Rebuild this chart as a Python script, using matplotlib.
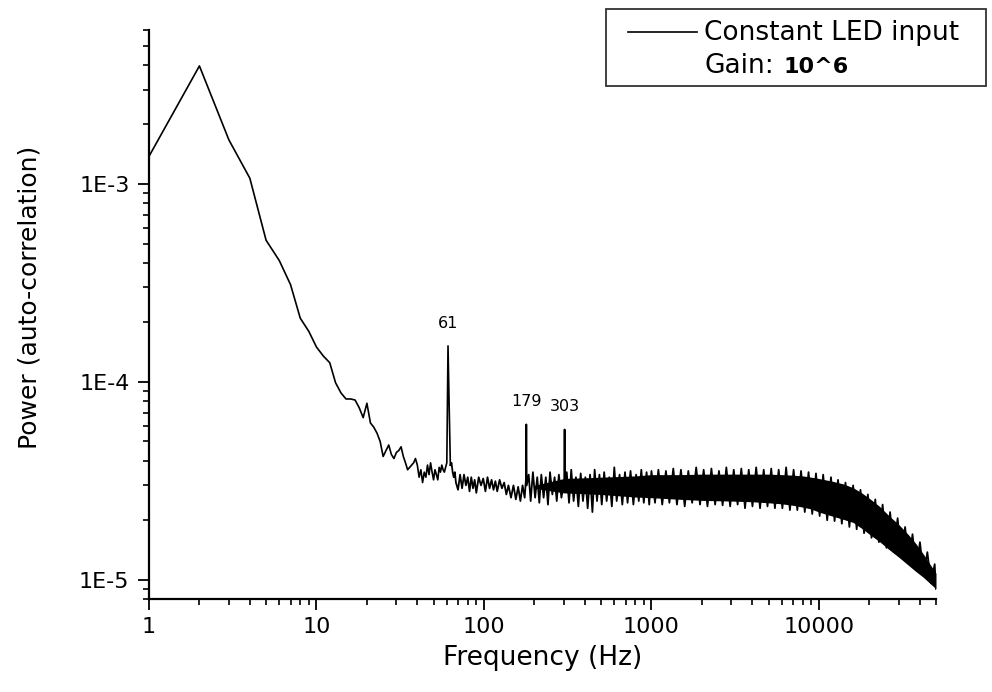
import matplotlib
matplotlib.use("Agg")
import matplotlib.pyplot as plt
from matplotlib.lines import Line2D
from matplotlib.patches import Rectangle
from matplotlib.ticker import FixedLocator, LogLocator, NullFormatter

# low-frequency part of the spectrum (1 Hz bins)
low_freq = [1, 2, 3, 4, 5, 6, 7, 8, 9, 10, 11, 12, 13, 14, 15, 16, 17, 18, 19, 20,
            21, 22, 23, 24, 25, 26, 27, 28, 29, 30, 31, 32, 33, 34, 35, 36, 37, 38,
            39, 40, 41, 42, 43, 44, 45, 46, 47, 48, 49, 50, 51, 52, 53, 54, 55, 56,
            57, 58, 59, 60, 61, 62]
low_power = [1.38e-3, 3.95e-3, 1.67e-3, 1.07e-3, 5.2e-4, 4.1e-4, 3.1e-4, 2.1e-4,
             1.8e-4, 1.5e-4, 1.35e-4, 1.25e-4, 9.9e-5, 8.8e-5, 8.2e-5, 8.2e-5,
             8.1e-5, 7.4e-5, 6.6e-5, 7.8e-5, 6.2e-5, 5.9e-5, 5.5e-5, 5.0e-5,
             4.2e-5, 4.5e-5, 4.8e-5, 4.3e-5, 4.1e-5, 4.4e-5, 4.5e-5, 4.7e-5,
             4.2e-5, 3.9e-5, 3.6e-5, 3.7e-5, 3.8e-5, 3.9e-5, 4.1e-5, 3.8e-5,
             3.3e-5, 3.6e-5, 3.1e-5, 3.5e-5, 3.3e-5, 3.8e-5, 3.4e-5, 3.9e-5,
             3.5e-5, 3.2e-5, 3.6e-5, 3.4e-5, 3.2e-5, 3.7e-5, 3.5e-5, 3.8e-5,
             3.6e-5, 3.5e-5, 3.7e-5, 3.9e-5, 1.52e-4, 7.4e-5]

# noisy part of the trace, extremes
noise_freq = [63, 64, 65, 66, 67, 68, 70, 72, 74, 76, 78, 80, 82, 84, 86, 88, 90,
              93, 96, 99, 102, 105, 108, 111, 114, 117, 120, 124, 128, 132, 136,
              140, 145, 150, 155, 160, 165, 170, 175, 178, 179, 180, 185, 190, 196,
              202, 208, 214, 220, 227, 234, 241, 248, 256, 264, 272, 280, 290, 302,
              303, 304, 312, 322, 332, 343, 354, 366, 378, 390, 403, 416, 430, 444,
              458, 473, 489, 505, 522, 540, 560, 580, 600, 620, 645, 670, 695, 720,
              750, 780, 810, 840, 870, 900, 935, 970, 1000, 1050, 1100, 1160, 1220,
              1280, 1350, 1420, 1500, 1580, 1660, 1750, 1850, 1950, 2050, 2160,
              2280, 2400, 2530, 2660, 2800, 2950, 3100, 3270, 3440, 3620, 3810,
              4010, 4220, 4450, 4680, 4930, 5190, 5460, 5750, 6050, 6370, 6710,
              7060, 7430, 7820, 8230, 8670, 9120, 9600, 10100, 10600, 11200, 11800,
              12400, 13000, 13700, 14400, 15200, 16000, 16800, 17700, 18600, 19600,
              20600, 21700, 22800, 24000, 25300, 26600, 28000, 29500, 31000, 32700,
              34400, 36200, 38100, 40100, 42200, 44400, 46700, 49100, 50000]
noise_power = [3.8e-5, 3.9e-5, 3.5e-5, 3.3e-5, 3.5e-5, 3.1e-5, 2.85e-5, 3.4e-5,
               2.9e-5, 3.4e-5, 3.0e-5, 3.3e-5, 2.8e-5, 3.3e-5, 2.9e-5, 3.2e-5,
               2.75e-5, 3.3e-5, 3.0e-5, 3.25e-5, 2.8e-5, 3.3e-5, 2.9e-5, 3.2e-5,
               2.85e-5, 3.15e-5, 2.8e-5, 3.2e-5, 2.9e-5, 3.1e-5, 2.7e-5, 3.0e-5,
               2.6e-5, 3.0e-5, 2.55e-5, 2.95e-5, 2.5e-5, 3.0e-5, 2.6e-5, 3.2e-5,
               6.1e-5, 3.0e-5, 3.4e-5, 2.5e-5, 3.5e-5, 2.6e-5, 3.3e-5, 2.45e-5,
               3.4e-5, 2.6e-5, 3.3e-5, 2.4e-5, 3.5e-5, 2.7e-5, 3.3e-5, 2.5e-5,
               3.4e-5, 2.6e-5, 3.2e-5, 5.75e-5, 2.9e-5, 3.5e-5, 2.45e-5, 3.6e-5,
               2.5e-5, 3.3e-5, 2.35e-5, 3.45e-5, 2.5e-5, 3.3e-5, 2.3e-5, 3.4e-5,
               2.2e-5, 3.6e-5, 2.5e-5, 3.4e-5, 2.4e-5, 3.5e-5, 2.5e-5, 3.3e-5,
               2.35e-5, 3.7e-5, 2.5e-5, 3.4e-5, 2.4e-5, 3.5e-5, 2.45e-5, 3.55e-5,
               2.4e-5, 3.4e-5, 2.5e-5, 3.6e-5, 2.45e-5, 3.5e-5, 2.4e-5, 3.55e-5,
               2.45e-5, 3.6e-5, 2.4e-5, 3.55e-5, 2.45e-5, 3.65e-5, 2.4e-5, 3.6e-5,
               2.35e-5, 3.55e-5, 2.45e-5, 3.7e-5, 2.4e-5, 3.6e-5, 2.35e-5, 3.65e-5,
               2.4e-5, 3.55e-5, 2.38e-5, 3.7e-5, 2.35e-5, 3.6e-5, 2.4e-5, 3.65e-5,
               2.3e-5, 3.6e-5, 2.35e-5, 3.7e-5, 2.3e-5, 3.6e-5, 2.35e-5, 3.65e-5,
               2.3e-5, 3.6e-5, 2.3e-5, 3.7e-5, 2.25e-5, 3.6e-5, 2.25e-5, 3.55e-5,
               2.2e-5, 3.5e-5, 2.15e-5, 3.45e-5, 2.1e-5, 3.4e-5, 2.0e-5, 3.3e-5,
               1.98e-5, 3.2e-5, 1.92e-5, 3.1e-5, 1.85e-5, 3.0e-5, 1.8e-5, 2.85e-5,
               1.72e-5, 2.7e-5, 1.63e-5, 2.55e-5, 1.55e-5, 2.4e-5, 1.45e-5, 2.2e-5,
               1.38e-5, 2.05e-5, 1.3e-5, 1.85e-5, 1.2e-5, 1.7e-5, 1.12e-5, 1.55e-5,
               1.05e-5, 1.38e-5, 9.6e-6, 1.2e-5, 9.0e-6]

# solid core of the dense band
band_freq = [200, 300, 500, 800, 1000, 1500, 2000, 3000, 4000, 5000, 6000, 7000,
             8000, 9000, 10000, 12000, 14000, 16000, 18000, 20000, 23000, 26000,
             30000, 34000, 38000, 42000, 46000, 50000]
band_hi = [3.0e-5, 3.25e-5, 3.3e-5, 3.35e-5, 3.4e-5, 3.4e-5, 3.42e-5, 3.42e-5,
           3.42e-5, 3.42e-5, 3.4e-5, 3.38e-5, 3.35e-5, 3.3e-5, 3.25e-5, 3.15e-5,
           3.05e-5, 2.92e-5, 2.75e-5, 2.58e-5, 2.35e-5, 2.12e-5, 1.9e-5, 1.7e-5,
           1.52e-5, 1.35e-5, 1.2e-5, 1.08e-5]
band_lo = [2.9e-5, 2.75e-5, 2.7e-5, 2.62e-5, 2.6e-5, 2.55e-5, 2.52e-5, 2.5e-5,
           2.48e-5, 2.45e-5, 2.42e-5, 2.38e-5, 2.33e-5, 2.28e-5, 2.2e-5, 2.1e-5,
           2.02e-5, 1.95e-5, 1.82e-5, 1.7e-5, 1.56e-5, 1.43e-5, 1.3e-5, 1.19e-5,
           1.1e-5, 1.03e-5, 9.6e-6, 9.0e-6]

# labelled peaks
peak_freq = [61, 179, 303]
peak_power = [1.52e-4, 6.1e-5, 5.75e-5]
peak_labels = ["61", "179", "303"]

W, H = 992, 692
fig = plt.figure(figsize=(W / 100, H / 100), dpi=100)
ax = fig.add_axes([149 / W, 1 - 599 / H, (936 - 149) / W, (599 - 30) / H])

ax.plot(low_freq + noise_freq[:1], low_power + noise_power[:1], color="black", lw=1.2)
ax.plot(noise_freq, noise_power, color="black", lw=1.3)
ax.fill_between(band_freq, band_lo, band_hi, color="black", lw=0)

for f, p, lab in zip(peak_freq, peak_power, peak_labels):
    ax.annotate(lab, xy=(f, p), xytext=(0, 11), textcoords="offset points",
                ha="center", va="bottom", fontsize=11.5)

ax.set_xscale("log")
ax.set_yscale("log")
ax.set_xlim(1, 50000)
ax.set_ylim(8e-6, 6e-3)

ax.spines["top"].set_visible(False)
ax.spines["right"].set_visible(False)
ax.spines["left"].set_linewidth(1.6)
ax.spines["bottom"].set_linewidth(1.6)

ax.xaxis.set_major_locator(FixedLocator([1, 10, 100, 1000, 10000]))
ax.set_xticklabels(["1", "10", "100", "1000", "10000"])
ax.xaxis.set_minor_locator(LogLocator(base=10, subs=range(2, 10), numticks=20))
ax.xaxis.set_minor_formatter(NullFormatter())
ax.yaxis.set_major_locator(FixedLocator([1e-5, 1e-4, 1e-3]))
ax.set_yticklabels(["1E-5", "1E-4", "1E-3"])
ax.yaxis.set_minor_locator(LogLocator(base=10, subs=range(2, 10), numticks=20))
ax.yaxis.set_minor_formatter(NullFormatter())

ax.tick_params(which="major", direction="out", length=8, width=1.3, labelsize=16)
ax.tick_params(which="minor", direction="out", length=4.5, width=1.2)
ax.tick_params(axis="x", which="major", pad=5)
ax.tick_params(axis="y", which="major", pad=6)

ax.set_xlabel("Frequency (Hz)", fontsize=19, labelpad=6)
ax.set_ylabel("Power (auto-correlation)", fontsize=18)
ax.yaxis.set_label_coords(-0.137, 0.53)

# legend box drawn in figure coordinates
fig.patches.append(Rectangle((606 / W, 1 - 86 / H), 380 / W, 77 / H,
                             transform=fig.transFigure, fill=False,
                             edgecolor="#333333", lw=1.3))
fig.lines.append(Line2D([628 / W, 697 / W], [1 - 32 / H, 1 - 32 / H],
                        transform=fig.transFigure, color="black", lw=1.2))
fig.text(704 / W, 1 - 40 / H, "Constant LED input", fontsize=19, va="baseline")
fig.text(704 / W, 1 - 73 / H, "Gain:", fontsize=19, va="baseline")
fig.text(783 / W, 1 - 73 / H, "10^6", fontsize=16, fontweight="bold", va="baseline")

fig.savefig("out.png", dpi=100)
